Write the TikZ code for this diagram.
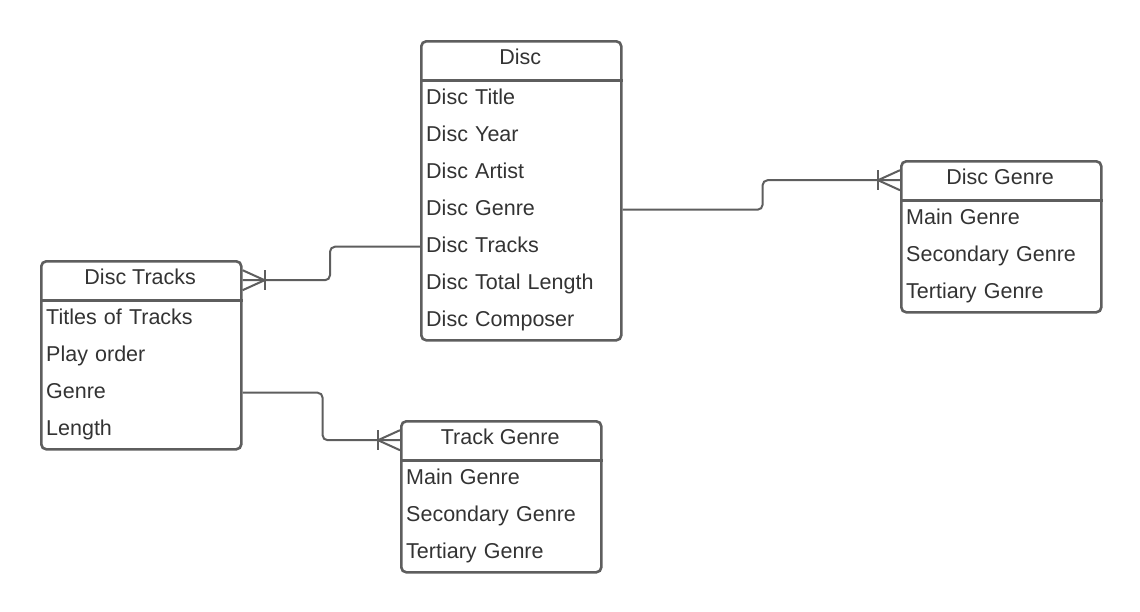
\documentclass[tikz,border=0pt]{standalone}
\usepackage{fontspec}
\setmainfont{Liberation Sans}
\definecolor{edge}{RGB}{94,94,94}
\definecolor{ink}{RGB}{51,51,51}
\tikzset{
  tablebox/.style={draw=edge, line width=2.6, rounded corners=5, minimum width=200, minimum height=#1, anchor=north west, inner sep=0},
  headbox/.style={minimum width=200, minimum height=40, anchor=north west, inner sep=0, text height=15, text depth=7, text=ink, font=\fontsize{21.5}{26}\selectfont},
  fieldrow/.style={minimum height=37, anchor=north west, inner xsep=6, inner ysep=0, text width=188, align=left, text height=16, text depth=5, text=ink, font=\fontsize{21.5}{26}\selectfont},
  divider/.style={draw=edge, line width=2.6},
  conn/.style={draw=edge, line width=2, rounded corners=5},
  crow/.style={draw=edge, line width=2},
}
\begin{document}
\begin{tikzpicture}[x=1pt,y=-1pt]
\useasboundingbox (0,0) rectangle (1140,611);

% Disc
\node[tablebox=299] (disc) at (420,40) {};
\node[headbox] (discH) at (420,40) {Disc};
\node[fieldrow] (d1) at (420,80) {Disc Title};
\node[fieldrow] (d2) at (420,117) {Disc Year};
\node[fieldrow] (d3) at (420,154) {Disc Artist};
\node[fieldrow] (d4) at (420,191) {Disc Genre};
\node[fieldrow] (d5) at (420,228) {Disc Tracks};
\node[fieldrow] (d6) at (420,265) {Disc Total Length};
\node[fieldrow] (d7) at (420,302) {Disc Composer};
\draw[divider] (disc.west |- discH.south) -- (disc.east |- discH.south);

% Disc Tracks
\node[tablebox=188] (tracks) at (40,260) {};
\node[headbox] (tracksH) at (40,260) {Disc Tracks};
\node[fieldrow] (t1) at (40,300) {Titles of Tracks};
\node[fieldrow] (t2) at (40,337) {Play order};
\node[fieldrow] (t3) at (40,374) {Genre};
\node[fieldrow] (t4) at (40,411) {Length};
\draw[divider] (tracks.west |- tracksH.south) -- (tracks.east |- tracksH.south);

% Disc Genre
\node[tablebox=151] (dgenre) at (900,160) {};
\node[headbox] (dgenreH) at (900,160) {Disc Genre};
\node[fieldrow] (g1) at (900,200) {Main Genre};
\node[fieldrow] (g2) at (900,237) {Secondary Genre};
\node[fieldrow] (g3) at (900,274) {Tertiary Genre};
\draw[divider] (dgenre.west |- dgenreH.south) -- (dgenre.east |- dgenreH.south);

% Track Genre
\node[tablebox=151] (tgenre) at (400,420) {};
\node[headbox] (tgenreH) at (400,420) {Track Genre};
\node[fieldrow] (k1) at (400,460) {Main Genre};
\node[fieldrow] (k2) at (400,497) {Secondary Genre};
\node[fieldrow] (k3) at (400,534) {Tertiary Genre};
\draw[divider] (tgenre.west |- tgenreH.south) -- (tgenre.east |- tgenreH.south);

% connector points
\coordinate (s1) at (disc.west |- d5);
\coordinate (e1) at (tracks.east |- tracksH);
\coordinate (s2) at (disc.east |- d4);
\coordinate (e2) at (dgenre.west |- dgenreH);
\coordinate (s3) at (tracks.east |- t3);
\coordinate (e3) at (tgenre.west |- tgenreH);

% Disc -- Disc Tracks
\draw[conn] (s1) -- ([xshift=-90]s1) |- (e1);
\draw[crow] ([yshift=-10]e1) -- ([xshift=22]e1) -- ([yshift=10]e1);
\draw[crow] ([shift={(22,-10)}]e1) -- ([shift={(22,10)}]e1);

% Disc -- Disc Genre
\draw[conn] (s2) -- ([xshift=140]s2) |- (e2);
\draw[crow] ([yshift=-10]e2) -- ([xshift=-22]e2) -- ([yshift=10]e2);
\draw[crow] ([shift={(-22,-10)}]e2) -- ([shift={(-22,10)}]e2);

% Disc Tracks -- Track Genre
\draw[conn] (s3) -- ([xshift=80]s3) |- (e3);
\draw[crow] ([yshift=-10]e3) -- ([xshift=-22]e3) -- ([yshift=10]e3);
\draw[crow] ([shift={(-22,-10)}]e3) -- ([shift={(-22,10)}]e3);
\end{tikzpicture}
\end{document}
